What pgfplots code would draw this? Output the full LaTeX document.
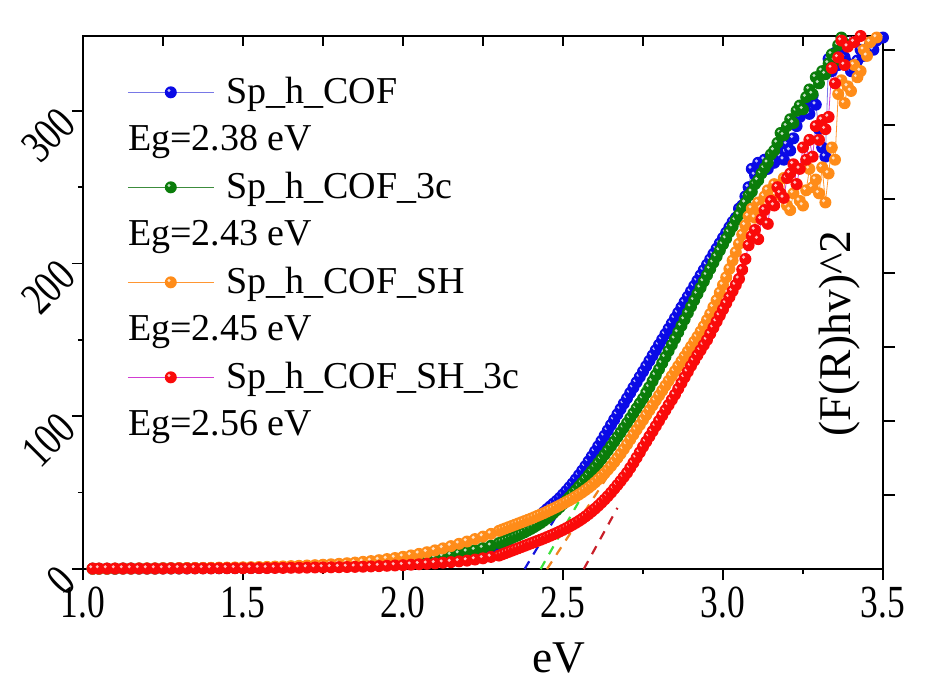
\documentclass[border=0pt]{standalone}
\usepackage{pgfplots}
\pgfplotsset{compat=1.18}
\usepackage{pgfplotstable}
\usepackage{fontspec}
\setmainfont{Liberation Serif}
\newfontfamily\tickfont[FakeStretch=0.77]{Liberation Serif}
\definecolor{ballblue}{RGB}{10,10,230}
\definecolor{ballgreen}{RGB}{10,125,10}
\definecolor{ballorange}{RGB}{255,140,25}
\definecolor{ballred}{RGB}{250,10,10}
\definecolor{lineblue}{RGB}{120,120,230}
\definecolor{linegreen}{RGB}{60,140,60}
\definecolor{lineorange}{RGB}{255,150,50}
\definecolor{linemag}{RGB}{210,60,210}
\definecolor{dblue}{RGB}{20,20,220}
\definecolor{dgreen}{RGB}{60,225,60}
\definecolor{dorange}{RGB}{240,130,30}
\definecolor{dred}{RGB}{200,30,40}
\pgfdeclareplotmark{sball}{%
  \pgfpathcircle{\pgfpointorigin}{\pgfplotmarksize}%
  \pgfusepathqfill
  \pgfscope
  \pgfsetfillcolor{white}\pgfsetfillopacity{0.75}%
  \pgfpathcircle{\pgfpoint{-0.3\pgfplotmarksize}{0.3\pgfplotmarksize}}{0.28\pgfplotmarksize}%
  \pgfusepathqfill
  \endpgfscope
}

\pgfplotstableread{
x y
1.03 0.2
1.05 0.2
1.075 0.2
1.1 0.2
1.125 0.3
1.15 0.3
1.175 0.3
1.2 0.3
1.225 0.3
1.25 0.4
1.275 0.4
1.3 0.4
1.325 0.4
1.35 0.5
1.375 0.5
1.4 0.5
1.425 0.5
1.45 0.6
1.475 0.6
1.5 0.7
1.525 0.7
1.55 0.8
1.575 0.9
1.6 1.0
1.625 1.1
1.65 1.2
1.675 1.3
1.7 1.4
1.725 1.5
1.75 1.7
1.775 1.9
1.8 2.1
1.825 2.3
1.85 2.5
1.875 2.8
1.9 3.1
1.925 3.4
1.95 3.8
1.975 4.1
2.0 4.5
2.025 5.0
2.05 5.5
2.075 6.0
2.1 6.7
2.125 7.4
2.15 8.2
2.175 9.1
2.2 10.1
2.225 11.2
2.25 12.4
2.275 13.8
2.30 15.4
2.31 16.6
2.32 17.8
2.33 19.1
2.34 20.5
2.35 21.9
2.36 23.4
2.37 24.9
2.38 26.5
2.39 28.2
2.40 29.9
2.41 31.7
2.42 33.5
2.43 35.4
2.44 37.3
2.45 39.2
2.46 41.0
2.47 42.8
2.48 44.6
2.49 46.6
2.50 48.8
2.51 51.1
2.52 53.5
2.53 56.0
2.54 58.7
2.55 61.5
2.56 64.4
2.57 67.4
2.58 70.5
2.59 73.7
2.60 77.0
2.61 80.4
2.62 83.8
2.63 87.3
2.64 90.8
2.65 94.3
2.66 97.8
2.67 101.3
2.68 104.8
2.69 108.3
2.70 111.8
2.71 115.3
2.72 118.8
2.73 122.3
2.74 125.8
2.75 129.3
2.76 132.8
2.77 136.3
2.78 139.8
2.79 143.3
2.80 146.8
2.81 150.3
2.82 153.8
2.83 157.3
2.84 160.8
2.85 164.3
2.86 167.8
2.87 171.3
2.88 174.8
2.89 178.3
2.90 181.8
2.91 185.3
2.92 188.8
2.93 192.3
2.94 195.8
2.95 199.3
2.96 202.8
2.97 206.3
2.98 209.8
2.99 213.3
3.00 216.8
3.01 220.3
3.02 223.8
3.03 227.3
3.04 230.0
3.05 236.0
3.06 238.0
3.07 244.0
3.08 250.0
3.09 262.0
3.10 258.0
3.11 266.0
3.12 260.0
3.13 268.0
3.14 262.0
3.15 271.0
3.16 266.0
3.17 274.0
3.18 270.0
3.19 268.0
3.20 278.0
3.21 274.0
3.22 282.0
3.23 290.0
3.24 296.0
3.25 301.0
3.26 305.0
3.27 298.0
3.28 310.0
3.29 304.0
3.30 288.0
3.31 276.0
3.32 270.0
3.33 334.0
3.34 326.0
3.35 338.0
3.36 330.0
3.37 342.0
3.38 335.0
3.39 331.0
3.40 326.0
3.41 328.0
3.42 333.0
3.43 340.0
3.44 336.0
3.45 338.0
3.46 344.0
3.47 340.0
3.48 346.0
3.49 350.0
3.50 348.0
}\tblue

\pgfplotstableread{
x y
1.03 0.2
1.05 0.2
1.075 0.2
1.1 0.2
1.125 0.3
1.15 0.3
1.175 0.3
1.2 0.3
1.225 0.3
1.25 0.4
1.275 0.4
1.3 0.4
1.325 0.5
1.35 0.5
1.375 0.5
1.4 0.6
1.425 0.6
1.45 0.7
1.475 0.7
1.5 0.8
1.525 0.8
1.55 0.9
1.575 1.0
1.6 1.1
1.625 1.2
1.65 1.3
1.675 1.4
1.7 1.6
1.725 1.7
1.75 1.9
1.775 2.1
1.8 2.3
1.825 2.5
1.85 2.8
1.875 3.1
1.9 3.4
1.925 3.8
1.95 4.2
1.975 4.6
2.0 5.0
2.025 5.5
2.05 6.1
2.075 6.7
2.1 7.4
2.125 8.2
2.15 9.1
2.175 10.1
2.2 11.2
2.225 12.4
2.25 13.7
2.275 15.2
2.30 17.0
2.31 17.8
2.32 18.6
2.33 19.4
2.34 20.3
2.35 21.2
2.36 22.1
2.37 23.1
2.38 24.1
2.39 25.2
2.40 26.3
2.41 27.5
2.42 28.8
2.43 30.1
2.44 31.6
2.45 33.1
2.46 34.8
2.47 36.6
2.48 38.5
2.49 40.5
2.50 42.6
2.51 44.8
2.52 47.0
2.53 49.3
2.54 51.6
2.55 54.0
2.56 56.4
2.57 58.9
2.58 61.4
2.59 64.0
2.60 66.6
2.61 69.3
2.62 72.0
2.63 74.8
2.64 77.6
2.65 80.5
2.66 83.4
2.67 86.4
2.68 89.4
2.69 92.5
2.70 95.6
2.71 98.8
2.72 102.0
2.73 105.2
2.74 108.4
2.75 111.6
2.76 115.2
2.77 119.1
2.78 123.0
2.79 126.9
2.80 130.8
2.81 134.8
2.82 138.8
2.83 142.8
2.84 146.8
2.85 150.8
2.86 155.0
2.87 159.2
2.88 163.4
2.89 167.6
2.90 171.8
2.91 176.0
2.92 180.1
2.93 184.2
2.94 188.3
2.95 192.4
2.96 196.5
2.97 200.6
2.98 204.6
2.99 208.6
3.00 212.6
3.01 216.4
3.02 220.6
3.03 224.2
3.04 228.4
3.05 232.0
3.06 236.5
3.07 239.8
3.08 244.6
3.09 247.0
3.10 252.0
3.11 254.5
3.12 259.0
3.13 262.5
3.14 266.0
3.15 271.5
3.16 274.0
3.17 279.0
3.18 285.5
3.19 284.0
3.20 290.0
3.21 294.5
3.22 292.0
3.23 300.0
3.24 303.5
3.25 301.0
3.26 309.0
3.27 314.0
3.28 311.0
3.29 322.0
3.30 318.0
3.31 326.0
3.32 324.0
3.33 331.0
3.34 337.0
3.35 333.0
3.36 343.0
3.37 348.0
3.38 344.0
3.39 352.0
3.40 356.0
3.41 352.0
3.42 360.0
3.43 364.0
3.44 360.0
3.45 368.0
3.46 372.0
3.47 368.0
3.48 376.0
3.49 378.0
3.50 380.0
}\tgreen

\pgfplotstableread{
x y
1.03 0.2
1.05 0.2
1.075 0.2
1.1 0.3
1.125 0.3
1.15 0.3
1.175 0.4
1.2 0.4
1.225 0.4
1.25 0.5
1.275 0.5
1.3 0.6
1.325 0.6
1.35 0.7
1.375 0.7
1.4 0.8
1.425 0.9
1.45 0.9
1.475 1.0
1.5 1.1
1.525 1.2
1.55 1.3
1.575 1.4
1.6 1.6
1.625 1.7
1.65 1.9
1.675 2.1
1.7 2.3
1.725 2.5
1.75 2.8
1.775 3.1
1.8 3.4
1.825 3.8
1.85 4.2
1.875 4.7
1.9 5.2
1.925 5.8
1.95 6.5
1.975 7.2
2.0 8.0
2.025 8.9
2.05 9.9
2.075 11.0
2.1 12.2
2.125 13.5
2.15 15.0
2.175 16.5
2.2 18.0
2.225 19.6
2.25 21.2
2.275 23.0
2.30 25.0
2.31 25.8
2.32 26.6
2.33 27.4
2.34 28.2
2.35 29.0
2.36 29.8
2.37 30.6
2.38 31.4
2.39 32.2
2.40 33.0
2.41 33.9
2.42 34.8
2.43 35.7
2.44 36.6
2.45 37.6
2.46 38.6
2.47 39.6
2.48 40.6
2.49 41.7
2.50 42.8
2.51 43.9
2.52 45.0
2.53 46.2
2.54 47.5
2.55 48.8
2.56 50.2
2.57 51.7
2.58 53.2
2.59 54.9
2.60 56.7
2.61 58.6
2.62 60.6
2.63 62.7
2.64 65.0
2.65 67.4
2.66 70.0
2.67 72.7
2.68 75.5
2.69 78.5
2.70 81.6
2.71 84.8
2.72 88.0
2.73 91.2
2.74 94.4
2.75 97.6
2.76 100.8
2.77 104.0
2.78 107.2
2.79 110.4
2.80 113.6
2.81 116.8
2.82 120.0
2.83 123.2
2.84 126.4
2.85 129.6
2.86 132.8
2.87 136.0
2.88 139.2
2.89 142.4
2.90 145.6
2.91 148.8
2.92 152.0
2.93 155.5
2.94 159.0
2.95 163.0
2.96 167.0
2.97 171.5
2.98 176.0
2.99 181.0
3.00 186.0
3.01 191.0
3.02 196.5
3.03 202.0
3.04 207.5
3.05 213.0
3.06 219.0
3.07 225.0
3.08 231.0
3.09 236.0
3.10 230.0
3.11 240.0
3.12 236.0
3.13 244.0
3.14 248.0
3.15 242.0
3.16 252.0
3.17 250.0
3.18 245.0
3.19 256.0
3.20 238.0
3.21 235.0
3.22 246.0
3.23 252.0
3.24 241.0
3.25 238.0
3.26 248.0
3.27 262.0
3.28 250.0
3.29 255.0
3.30 246.0
3.31 263.0
3.32 240.0
3.33 259.0
3.34 276.0
3.35 268.0
3.36 311.0
3.37 320.0
3.38 305.0
3.39 316.0
3.40 313.0
3.41 330.0
3.42 322.0
3.43 326.0
3.44 340.0
3.45 336.0
3.46 345.0
3.47 352.0
3.48 348.0
3.49 355.0
3.50 352.0
}\torange

\pgfplotstableread{
x y
1.03 0.3
1.05 0.3
1.075 0.3
1.1 0.3
1.125 0.3
1.15 0.3
1.175 0.3
1.2 0.3
1.225 0.3
1.25 0.3
1.275 0.4
1.3 0.4
1.325 0.4
1.35 0.4
1.375 0.4
1.4 0.4
1.425 0.5
1.45 0.5
1.475 0.5
1.5 0.5
1.525 0.6
1.55 0.6
1.575 0.6
1.6 0.7
1.625 0.7
1.65 0.8
1.675 0.8
1.7 0.9
1.725 1.0
1.75 1.0
1.775 1.1
1.8 1.2
1.825 1.3
1.85 1.4
1.875 1.5
1.9 1.7
1.925 1.9
1.95 2.1
1.975 2.3
2.0 2.5
2.025 2.8
2.05 3.1
2.075 3.4
2.1 3.7
2.125 4.1
2.15 4.5
2.175 5.0
2.2 5.5
2.225 6.2
2.25 7.0
2.275 7.9
2.30 8.8
2.31 9.6
2.32 10.4
2.33 11.2
2.34 12.0
2.35 12.8
2.36 13.6
2.37 14.4
2.38 15.2
2.39 16.0
2.40 16.8
2.41 17.6
2.42 18.4
2.43 19.2
2.44 20.0
2.45 20.9
2.46 21.8
2.47 22.7
2.48 23.6
2.49 24.6
2.50 25.6
2.51 26.7
2.52 27.8
2.53 29.0
2.54 30.2
2.55 31.5
2.56 32.9
2.57 34.4
2.58 36.0
2.59 37.7
2.60 39.5
2.61 41.4
2.62 43.4
2.63 45.5
2.64 47.7
2.65 50.0
2.66 52.5
2.67 55.0
2.68 57.6
2.69 60.3
2.70 63.0
2.71 66.2
2.72 69.5
2.73 72.9
2.74 76.4
2.75 80.0
2.76 83.4
2.77 86.8
2.78 90.2
2.79 93.6
2.80 97.0
2.81 100.5
2.82 104.0
2.83 107.4
2.84 110.8
2.85 114.2
2.86 118.0
2.87 121.7
2.88 125.5
2.89 129.2
2.90 133.0
2.91 136.5
2.92 140.0
2.93 143.3
2.94 146.7
2.95 150.0
2.96 154.0
2.97 158.0
2.98 162.0
2.99 166.0
3.00 170.0
3.01 174.0
3.02 178.0
3.03 182.0
3.04 186.0
3.05 190.0
3.06 196.0
3.07 203.0
3.08 212.0
3.09 218.0
3.10 222.0
3.11 216.0
3.12 229.0
3.13 235.0
3.14 226.0
3.15 241.0
3.16 238.0
3.17 250.0
3.18 246.0
3.19 243.0
3.20 256.0
3.21 259.0
3.22 265.0
3.23 252.0
3.24 262.0
3.25 276.0
3.26 268.0
3.27 281.0
3.28 270.0
3.29 290.0
3.30 281.0
3.31 294.0
3.32 288.0
3.33 296.0
3.34 328.0
3.35 318.0
3.36 335.0
3.37 346.0
3.38 330.0
3.39 342.0
3.40 352.0
3.41 345.0
3.42 355.0
3.43 349.0
3.44 358.0
3.45 352.0
3.46 360.0
3.47 356.0
3.48 362.0
3.49 358.0
3.50 365.0
}\tred

\begin{document}
\begin{tikzpicture}
\begin{axis}[
  scale only axis, width=400pt, height=266.5pt,
  xmin=1, xmax=3.5, ymin=0, ymax=349,
  xtick={1,1.5,2,2.5,3,3.5},
  xticklabels={1.0,1.5,2.0,2.5,3.0,3.5},
  minor xtick={1.25,1.75,2.25,2.75,3.25},
  ytick={0,100,200,300},
  yticklabels={0,100,200,300},
  minor ytick={50,150,250},
  xtick pos=bottom, ytick pos=left,
  tick align=outside,
  major tick length=5.5pt, minor tick length=2.5pt,
  every tick/.style={black, line width=0.8pt},
  axis line style={line width=1pt},
  /pgf/number format/assume math mode=true,
  tick label style={font=\tickfont\fontsize{23}{25}\selectfont},
  yticklabel style={rotate=45, anchor=east},
  xlabel={eV},
  xlabel style={at={(axis description cs:0.595,0)}, anchor=north, yshift=-36.5pt, inner sep=0pt, font=\fontsize{22.7}{24}\selectfont},
  ylabel={(F(R)hv)\textasciicircum 2},
  ylabel style={at={(axis description cs:0.946,0.442)}, anchor=center, rotate=0, font=\fontsize{22.7}{24}\selectfont},
  legend cell align=left,
  legend style={at={(axis description cs:0.055,0.927)}, anchor=north west, draw=none, fill=none, inner sep=0pt, row sep=6.75pt, column sep=6pt,
    font=\fontsize{19}{21}\selectfont,
    nodes={inner sep=0pt, text height=14pt, text depth=3pt}},
  legend image code/.code={\draw[mark repeat=2,mark phase=2,#1] plot coordinates {(0pt,0pt) (21.5pt,0pt) (43pt,0pt)};},
]
\addplot[color=lineblue, line width=0.4pt, mark=sball, mark size=3pt, mark options={fill=ballblue}] table {\tblue};
\addlegendentry{Sp\_h\_COF}
\addlegendimage{empty legend}
\addlegendentry{\hspace*{-49pt}Eg=2.38 eV}
\addplot[color=linegreen, line width=0.4pt, mark=sball, mark size=3pt, mark options={fill=ballgreen}] table {\tgreen};
\addlegendentry{Sp\_h\_COF\_3c}
\addlegendimage{empty legend}
\addlegendentry{\hspace*{-49pt}Eg=2.43 eV}
\addplot[color=lineorange, line width=0.4pt, mark=sball, mark size=3pt, mark options={fill=ballorange}] table {\torange};
\addlegendentry{Sp\_h\_COF\_SH}
\addlegendimage{empty legend}
\addlegendentry{\hspace*{-49pt}Eg=2.45 eV}
\addplot[color=linemag, line width=0.4pt, mark=sball, mark size=3pt, mark options={fill=ballred}] table {\tred};
\addlegendentry{Sp\_h\_COF\_SH\_3c}
\addlegendimage{empty legend}
\addlegendentry{\hspace*{-49pt}Eg=2.56 eV}
\addplot[forget plot, dblue, line width=1.1pt, dash pattern=on 4.5pt off 4pt] coordinates {(2.38,0) (2.566,65)};
\addplot[forget plot, dgreen, line width=1.1pt, dash pattern=on 4.5pt off 4pt] coordinates {(2.43,0) (3.08,240)};
\addplot[forget plot, dorange, line width=1.1pt, dash pattern=on 4.5pt off 4pt] coordinates {(2.45,0) (2.65,64)};
\addplot[forget plot, dred, line width=1.1pt, dash pattern=on 4.5pt off 4pt] coordinates {(2.565,0) (2.67,40)};
\coordinate (SW) at (rel axis cs:0,0);
\coordinate (NE) at (rel axis cs:1,1);
\end{axis}
\begin{axis}[
  scale only axis, width=400pt, height=266.5pt,
  xmin=1, xmax=3.5, ymin=0, ymax=349,
  xtick={1.25,1.5,1.75,2,2.25,2.5,2.75,3,3.25},
  xticklabels={}, ytick=\empty,
  xtick pos=top, tick align=inside,
  major tick length=5pt,
  every tick/.style={black, line width=0.8pt},
  axis line style={draw=none},
]
\end{axis}
\begin{axis}[
  scale only axis, width=400pt, height=266.5pt,
  xmin=1, xmax=3.5, ymin=0, ymax=349,
  ytick={48.4,96.9,145.3,193.7,242.1,290.6,339.7},
  yticklabels={}, xtick=\empty,
  ytick pos=right, tick align=outside,
  major tick length=6pt,
  every tick/.style={black, line width=0.8pt},
  axis line style={draw=none},
]
\end{axis}
\pgfresetboundingbox
\path[use as bounding box] ([shift={(-41.5pt,-56.5pt)}]SW) rectangle ([shift={(22pt,18pt)}]NE);
\end{tikzpicture}
\end{document}
